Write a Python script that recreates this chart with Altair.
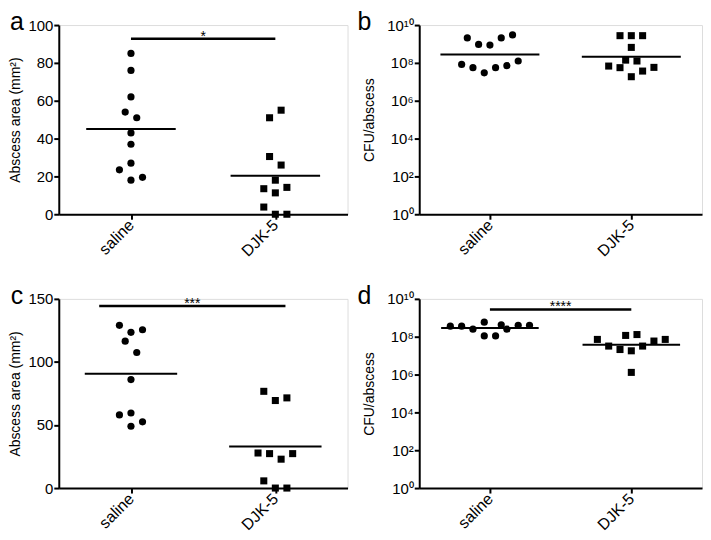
import altair as alt
import pandas as pd

groups = ["saline", "DJK-5"]

# ---- panel a : abscess area (mm^2)
a_saline = [85, 76, 62, 54, 51, 43, 37, 27, 23.5, 19.5, 18]
a_saline_slot = [0, 0, 0, -1, 1, 0, 0, 0, -2, 2, 0]
a_djk = [55, 51, 30.5, 26, 18, 13.5, 11.3, 14.2, 3.8, 0, 0]
a_djk_slot = [1, -1, -1, 1, 0, -2, 0, 2, -2, 0, 2]
a_means = [45, 20.3]
a_sig = 92.8
a_sig_span = [0.0, 1.0]
a_stars = "*"

# ---- panel b : CFU/abscess
b_saline = [2.1e9, 9.5e8, 8.7e8, 2.1e9, 3.0e9, 8.3e7, 5.6e7, 3.0e7, 5.6e7, 7.1e7, 1.26e8]
b_saline_slot = [-4, -2, 0, 2, 4, -5, -3, -1, 1, 3, 5]
b_djk = [2.75e9, 2.75e9, 2.75e9, 6.6e8, 1.4e8, 1.26e8, 6.8e7, 5.6e7, 3.7e7, 5.8e7, 1.86e7]
b_djk_slot = [-2, 0, 2, 0, -1, 1, -4, -2, 2, 4, 0]
b_means = [2.8e8, 2.1e8]

# ---- panel c : abscess area (mm^2)
c_saline = [129, 123.5, 125.5, 116.5, 107.5, 86, 58, 59.5, 49, 52.5]
c_saline_slot = [-2, 0, 2, -1, 1, 0, -2, 0, 0, 2]
c_djk = [76.7, 69.4, 71.5, 27.8, 27.3, 27.3, 22.9, 5.7, 0, 0]
c_djk_slot = [-2, 0, 2, -3, -1, 3, 1, -2, 0, 2]
c_means = [90.7, 32.9]
c_sig = 144.3
c_sig_span = [-0.22, 1.07]
c_stars = "***"

# ---- panel d : CFU/abscess
d_saline = [3.6e8, 3.6e8, 2.5e8, 5.9e8, 1.1e8, 1.1e8, 4.3e8, 2.5e8, 4.0e8, 4.0e8]
d_saline_slot = [-7, -5, -3, -1, -1, 1, 2, 3, 5, 7]
d_djk = [7.2e7, 3.2e7, 2.1e7, 1.17e8, 1.8e7, 1.3e8, 3.2e7, 5.9e7, 7.2e7, 1.3e6]
d_djk_slot = [-6, -4, -2, -1, 0, 1, 2, 4, 6, 0]
d_means = [2.9e8, 3.8e7]
d_sig = 2.75e9
d_sig_span = [0.0, 1.0]
d_stars = "****"

FONT = "Liberation Sans"
H = 190
SLOT = 0.04


def axis_common(**kw):
    return alt.Axis(
        domainColor="black", domainWidth=2, tickColor="black", tickWidth=2,
        tickSize=5, labelColor="black", labelFont=FONT, labelOverlap=False,
        titleColor="black", titleFontSize=14, titleFontWeight="normal",
        titleFont=FONT, grid=False, **kw)


def panel(label, W, sal, sal_slot, djk, djk_slot, means, halfw, ytitle, log,
          sig=None, sig_span=None, stars=None, lab_x=-50):
    rows = []
    for v, s in zip(sal, sal_slot):
        rows.append({"g": 0, "group": groups[0], "value": v, "slot": s})
    for v, s in zip(djk, djk_slot):
        rows.append({"g": 1, "group": groups[1], "value": v, "slot": s})
    df = pd.DataFrame(rows)
    df["x"] = df["g"] + df["slot"] * SLOT

    xscale = alt.Scale(domain=[-0.5, 1.5], nice=False, zero=False)
    xaxis = axis_common(values=[0, 1], labelAngle=-45, labelAlign="right",
                        labelBaseline="middle", title=None, labelFontSize=16,
                        labelPadding=3,
                        labelExpr="datum.value == 0 ? 'saline' : 'DJK-5'")
    if log:
        yscale = alt.Scale(type="log", domain=[1, 1e10], nice=False)
        yaxis = axis_common(
            values=[1, 1e2, 1e4, 1e6, 1e8, 1e10], title=ytitle, titlePadding=10,
            labelFontSize=15, labelPadding=1,
            labelExpr=("datum.value == 1 ? '10⁰' : datum.value == 100 ? '10²' : "
                       "datum.value == 10000 ? '10⁴' : datum.value == 1000000 ? '10⁶' : "
                       "datum.value == 100000000 ? '10⁸' : '10¹⁰'"))
    else:
        top = 100 if label == "a" else 150
        step = 20 if label == "a" else 50
        yscale = alt.Scale(domain=[0, top], nice=False)
        yaxis = axis_common(values=list(range(0, top + 1, step)), title=ytitle,
                            titlePadding=5, labelFontSize=15, labelPadding=1)

    pts = alt.Chart(df).mark_point(filled=True, opacity=1, color="black").encode(
        x=alt.X("x:Q", scale=xscale, axis=xaxis),
        y=alt.Y("value:Q", scale=yscale, axis=yaxis),
        shape=alt.Shape("group:N", scale=alt.Scale(domain=groups, range=["circle", "square"]), legend=None),
        size=alt.Size("group:N", scale=alt.Scale(domain=groups, range=[52, 50]), legend=None),
    )

    mdf = pd.DataFrame({"g": [0, 1], "m": means})
    mdf["x1"] = mdf["g"] - halfw
    mdf["x2"] = mdf["g"] + halfw
    mlines = alt.Chart(mdf).mark_rule(color="black", strokeWidth=2).encode(
        x=alt.X("x1:Q", scale=xscale, axis=xaxis), x2="x2:Q",
        y=alt.Y("m:Q", scale=yscale, axis=yaxis))

    layers = [pts, mlines]
    if sig is not None:
        sdf = pd.DataFrame({"x1": [sig_span[0]], "x2": [sig_span[1]], "y": [sig],
                            "t": [stars], "xm": [(sig_span[0] + sig_span[1]) / 2]})
        bar = alt.Chart(sdf).mark_rule(color="black", strokeWidth=2.5).encode(
            x=alt.X("x1:Q", scale=xscale, axis=xaxis), x2="x2:Q",
            y=alt.Y("y:Q", scale=yscale, axis=yaxis))
        txt = alt.Chart(sdf).mark_text(fontSize=14, font=FONT, color="black",
                                       baseline="alphabetic", dy=2).encode(
            x=alt.X("xm:Q", scale=xscale, axis=xaxis),
            y=alt.Y("y:Q", scale=yscale, axis=yaxis), text="t:N")
        layers += [bar, txt]

    lab = alt.Chart(pd.DataFrame({"t": [label]})).mark_text(
        fontSize=25, font=FONT, color="black", align="center", baseline="alphabetic"
    ).encode(x=alt.value(lab_x), y=alt.value(5), text="t:N")
    layers.append(lab)

    return alt.layer(*layers).properties(width=W, height=H)


pa = panel("a", 290, a_saline, a_saline_slot, a_djk, a_djk_slot, a_means, 0.31,
           "Abscess area (mm²)", False, a_sig, a_sig_span, a_stars, lab_x=-42)
pb = panel("b", 284, b_saline, b_saline_slot, b_djk, b_djk_slot, b_means, 0.35,
           "CFU/abscess", True, lab_x=-55)
pc = panel("c", 290, c_saline, c_saline_slot, c_djk, c_djk_slot, c_means, 0.32,
           "Abscess area (mm²)", False, c_sig, c_sig_span, c_stars, lab_x=-42)
pd_ = panel("d", 284, d_saline, d_saline_slot, d_djk, d_djk_slot, d_means, 0.345,
            "CFU/abscess", True, d_sig, d_sig_span, d_stars, lab_x=-55)

chart = alt.vconcat(
    alt.hconcat(pa, pb, spacing=8),
    alt.hconcat(pc, pd_, spacing=8),
    spacing=23,
).configure_view(stroke=None).configure(
    font=FONT, padding={"top": 0, "left": 0, "right": 0, "bottom": -2})

chart.save("out.html", embed_options={"renderer": "svg", "actions": False})
